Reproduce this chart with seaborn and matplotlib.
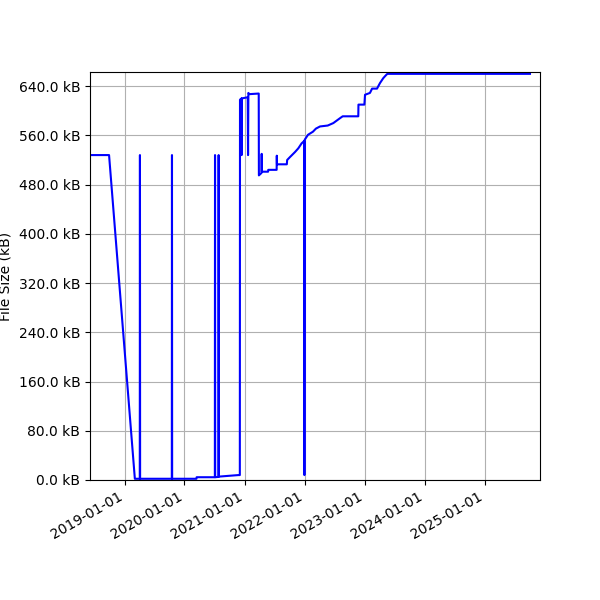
import matplotlib
matplotlib.use("Agg")
import matplotlib.pyplot as plt
import matplotlib.dates as mdates
from matplotlib.ticker import FuncFormatter, MultipleLocator
import pandas as pd
import seaborn as sns

dates = [
    "2018-06-05", "2018-09-29", "2019-03-05", "2019-04-04", "2019-04-05", "2019-04-06",
    "2019-10-16", "2019-10-17", "2019-10-18", "2020-03-14", "2020-03-15", "2020-07-04",
    "2020-07-05", "2020-07-06", "2020-07-26", "2020-07-27", "2020-07-28", "2020-11-24",
    "2020-12-03", "2020-12-04", "2020-12-13", "2020-12-14", "2020-12-15", "2021-01-20",
    "2021-01-22", "2021-01-24", "2021-01-30", "2021-03-28", "2021-03-29", "2021-04-14",
    "2021-04-15", "2021-04-16", "2021-05-24", "2021-05-25", "2021-07-15", "2021-07-16",
    "2021-07-17", "2021-09-15", "2021-09-17", "2021-10-05", "2021-11-04", "2021-11-24",
    "2021-12-14", "2021-12-30", "2021-12-31", "2022-01-02", "2022-01-22", "2022-02-21",
    "2022-03-11", "2022-04-05", "2022-05-22", "2022-06-25", "2022-08-05", "2022-08-21",
    "2022-11-24", "2022-11-25", "2022-12-31", "2023-01-04", "2023-02-03", "2023-02-16",
    "2023-03-18", "2023-04-05", "2023-04-25", "2023-05-12", "2023-05-20", "2025-10-04",
]
sizes_kb = [
    528, 528, 2, 2, 528, 2,
    2, 528, 2, 2, 4.5, 4.5,
    528, 4.5, 5, 528, 5.5, 8,
    8, 618, 620, 528, 620, 622,
    528, 629, 627, 628, 495, 499,
    530, 501, 501, 504, 504, 527,
    513, 513, 520, 525, 533, 539,
    547, 551, 8, 553, 561, 566,
    571, 574.5, 576, 580, 588, 591,
    591, 610, 610, 626, 629, 636,
    636, 645, 653, 658, 660, 660,
]
x_right_limit = "2025-12-04"
y_top_limit = 663
y_tick_step = 80

df = pd.DataFrame({"date": pd.to_datetime(dates), "size": sizes_kb})

fig = plt.figure(figsize=(6, 6), dpi=100)
ax = fig.add_subplot(111)
sns.lineplot(data=df, x="date", y="size", ax=ax, color="blue", linewidth=1.5,
             sort=False, estimator=None)
ax.grid(True, color="#b0b0b0", linewidth=0.8)
ax.set_axisbelow(True)
ax.set_xlim(df["date"].min(), pd.Timestamp(x_right_limit))
ax.set_ylim(0, y_top_limit)
ax.yaxis.set_major_locator(MultipleLocator(y_tick_step))
ax.yaxis.set_major_formatter(FuncFormatter(lambda v, p: f"{v:.1f} kB"))
ax.xaxis.set_major_locator(mdates.YearLocator())
ax.xaxis.set_major_formatter(mdates.DateFormatter("%Y-%m-%d"))
ax.set_xlabel("")
ax.set_ylabel("File Size (kB)")
fig.autofmt_xdate()
fig.subplots_adjust(left=0.15, right=0.9, top=0.88, bottom=0.2)
fig.savefig("out.png", dpi=100)
